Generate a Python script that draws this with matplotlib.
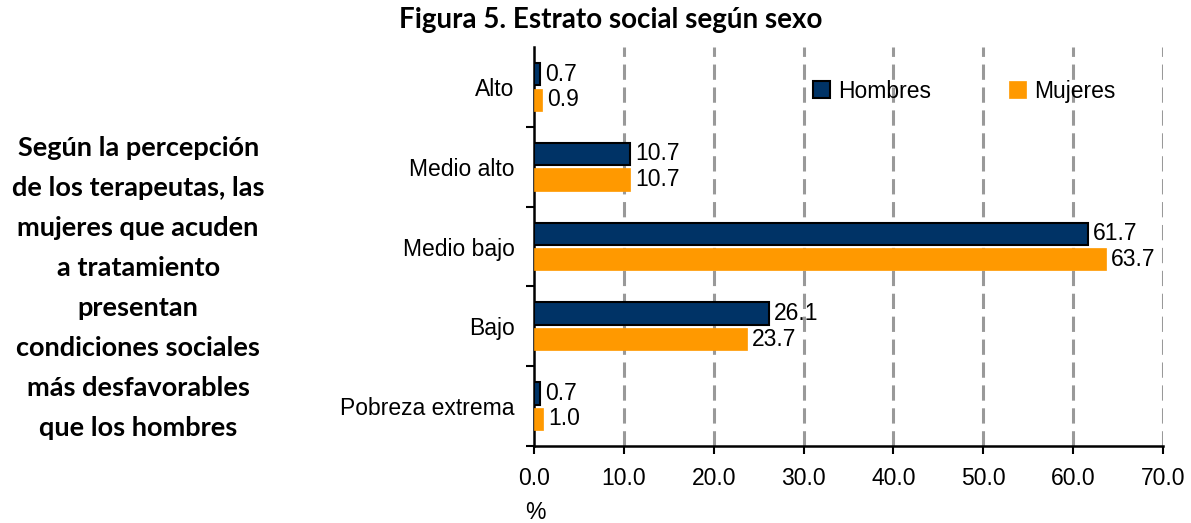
import matplotlib
matplotlib.use("Agg")
import matplotlib.pyplot as plt
import numpy as np

categories = ["Alto", "Medio alto", "Medio bajo", "Bajo", "Pobreza extrema"]
hombres = [0.7, 10.7, 61.7, 26.1, 0.7]
mujeres = [0.9, 10.7, 63.7, 23.7, 1.0]
x_ticks = [0, 10, 20, 30, 40, 50, 60, 70]

navy = "#003366"
orange = "#FF9900"

fig = plt.figure(figsize=(11.91, 5.23), dpi=100)
ax = fig.add_axes([0.4484, 0.1472, 0.5281, 0.7629])

y = np.arange(len(categories))
h = 0.28
off = 0.16
ax.barh(y - off, hombres, height=h, color=navy, edgecolor="black", linewidth=1.5,
        label="Hombres", zorder=3)
ax.barh(y + off, mujeres, height=h, color=orange, edgecolor=orange, linewidth=0.5,
        label="Mujeres", zorder=3)

label_font = dict(family="Liberation Sans", fontsize=16.5)
for yi, v in zip(y, hombres):
    ax.annotate(f"{v:.1f}", (v, yi - off), xytext=(3.5, 0), textcoords="offset points",
                va="center", ha="left", **label_font)
for yi, v in zip(y, mujeres):
    ax.annotate(f"{v:.1f}", (v, yi + off), xytext=(3.5, 0), textcoords="offset points",
                va="center", ha="left", **label_font)

ax.set_xlim(0, 70)
ax.set_ylim(len(categories) - 0.5, -0.5)
ax.set_xticks(x_ticks)
ax.set_xticklabels([f"{t:.1f}" for t in x_ticks], **label_font)
ax.tick_params(axis="x", direction="out", length=6, width=1.5, pad=9)

ax.set_yticks(y)
ax.set_yticklabels(categories, **label_font)
ax.tick_params(axis="y", which="major", length=0, pad=14)
ax.set_yticks(np.arange(0.5, len(categories), 1.0), minor=True)
ax.tick_params(axis="y", which="minor", direction="out", length=6, width=1.5)

for xv in x_ticks[1:]:
    ax.axvline(xv, color="#999999", linestyle=(0, (5, 2.5)), linewidth=2.2, zorder=1)

for side in ("top", "right"):
    ax.spines[side].set_visible(False)
for side in ("left", "bottom"):
    ax.spines[side].set_linewidth(1.8)
    ax.spines[side].set_color("black")

ax.annotate("%", (0, 0), xycoords="axes fraction", xytext=(1, -48),
            textcoords="offset points", ha="center", va="center", **label_font)

leg = ax.legend(loc="upper left", bbox_to_anchor=(0.41, 0.97), ncol=2, frameon=False,
                prop={"family": "Liberation Sans", "size": 16.5}, handlelength=0.75,
                handleheight=0.75, columnspacing=3.4, handletextpad=0.35)

fig.text(0.513, 0.962, "Figura 5. Estrato social según sexo", ha="center", va="center",
         family="Lato", fontweight="bold", fontsize=20)

left_text = ("Según la percepción\nde los terapeutas, las\nmujeres que acuden\n"
             "a tratamiento\npresentan\ncondiciones sociales\nmás desfavorables\n"
             "que los hombres")
fig.text(0.116, 0.449, left_text, ha="center", va="center", family="Lato",
         fontweight="bold", fontsize=19.5, linespacing=1.8)

fig.savefig("out.png", dpi=100)
